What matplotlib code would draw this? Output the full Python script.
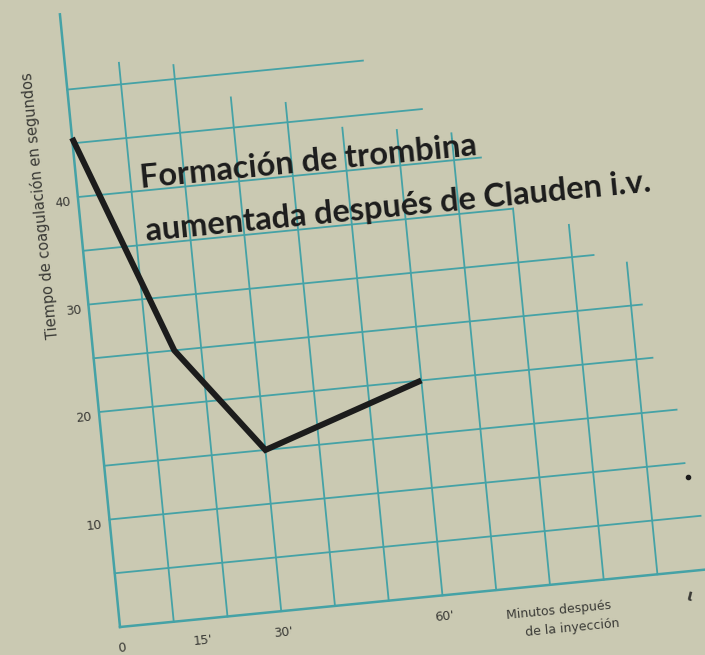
import matplotlib
matplotlib.use("Agg")
import matplotlib.pyplot as plt
import matplotlib.transforms as mtransforms

# ---- data ----
minutes = [0, 15, 30, 60]
seconds = [45.5, 25, 15, 20]

x_ticks = [0, 15, 30, 60]
x_tick_labels = ["0", "15'", "30'", "60'"]
y_ticks = [10, 20, 30, 40]
y_tick_labels = ["10", "20", "30", "40"]

title_lines = ["Formación de trombina", "aumentada después de Clauden i.v."]
y_label = "Tiempo de coagulación en segundos"
x_label_lines = ["Minutos después", "de la inyección"]

# hand-drawn grid (every 10 min / every 5 s) with irregular extents
grid_x = [10, 20, 30, 40, 50, 60, 70, 80, 90, 100]
grid_x_tops = [52, 51.3, 47.8, 46.8, 44, 43.3, 42.5, 35, 33, 29]
grid_y = [5, 10, 15, 20, 25, 30, 35, 40, 45, 50]
grid_y_ends = [109, 107, 106.5, 103, 102, 94, 80, 75, 65, 55]

# ---- style ----
BG = "#cac9b2"
GRID = "#45a2a6"
INK = "#1c1c1c"
TXT = "#3a3a36"
ANG = 5.6            # the printed page is rotated
W, H = 705, 655
PX_X, PX_Y = 5.4, 10.8   # pixels per minute / per second
OX, OY = 120, H - 627
XMAX, YMAX = 112, 58

fig = plt.figure(figsize=(W / 100, H / 100), dpi=100, facecolor=BG)
ax = fig.add_axes([OX / W, OY / H, XMAX * PX_X / W, YMAX * PX_Y / H])
ax.set_xlim(0, XMAX)
ax.set_ylim(0, YMAX)
ax.axis("off")
T = ax.transData + mtransforms.Affine2D().rotate_deg_around(OX, OY, ANG)

# grid
for gx, top in zip(grid_x, grid_x_tops):
    ax.plot([gx, gx], [0, top], color=GRID, lw=1.3, transform=T, clip_on=False)
for gy, end in zip(grid_y, grid_y_ends):
    ax.plot([0, end], [gy, gy], color=GRID, lw=1.3, transform=T, clip_on=False)
# axes
ax.plot([0, 0], [0, 57], color=GRID, lw=1.8, transform=T, clip_on=False)
ax.plot([0, 118], [0, 0], color=GRID, lw=1.8, transform=T, clip_on=False)

# data line
ax.plot(minutes, seconds, color=INK, lw=4.3, transform=T, clip_on=False,
        solid_joinstyle="miter", solid_capstyle="butt")

SMALL = dict(transform=T, rotation=ANG, rotation_mode="anchor", ha="center",
             va="center", fontsize=9, color=TXT, family="DejaVu Sans")
# tick labels
for xv, lab in zip(x_ticks, x_tick_labels):
    ax.text(xv, -2.0, lab, **SMALL)
for yv, lab in zip(y_ticks, y_tick_labels):
    ax.text(-2.9, yv - 0.4, lab, **SMALL)

# axis labels
ax.text(-7.1, 39.6, y_label, transform=T, rotation=90 + ANG, rotation_mode="anchor",
        ha="center", va="center", fontsize=10.5, color=TXT, family="DejaVu Sans")
ax.text(81.2, -2.4, x_label_lines[0], **SMALL)
ax.text(83.3, -4.2, x_label_lines[1], **SMALL)

# stray print marks
ax.plot([107.4], [8.7], "o", ms=3, color=INK, transform=T, clip_on=False)
ax.text(105.5, -2.3, "ι", transform=T, rotation=ANG - 20, fontsize=11, color=TXT,
        ha="center", va="center", weight="bold")

# title
TITLE = dict(transform=T, rotation=ANG, rotation_mode="anchor", ha="left",
             va="baseline", fontsize=23.5, color=INK, family="Lato", weight="bold")
ax.text(11.9, 40.3, title_lines[0], **TITLE)
ax.text(11.9, 35.3, title_lines[1], **TITLE)

fig.savefig("out.png", dpi=100, facecolor=BG)
